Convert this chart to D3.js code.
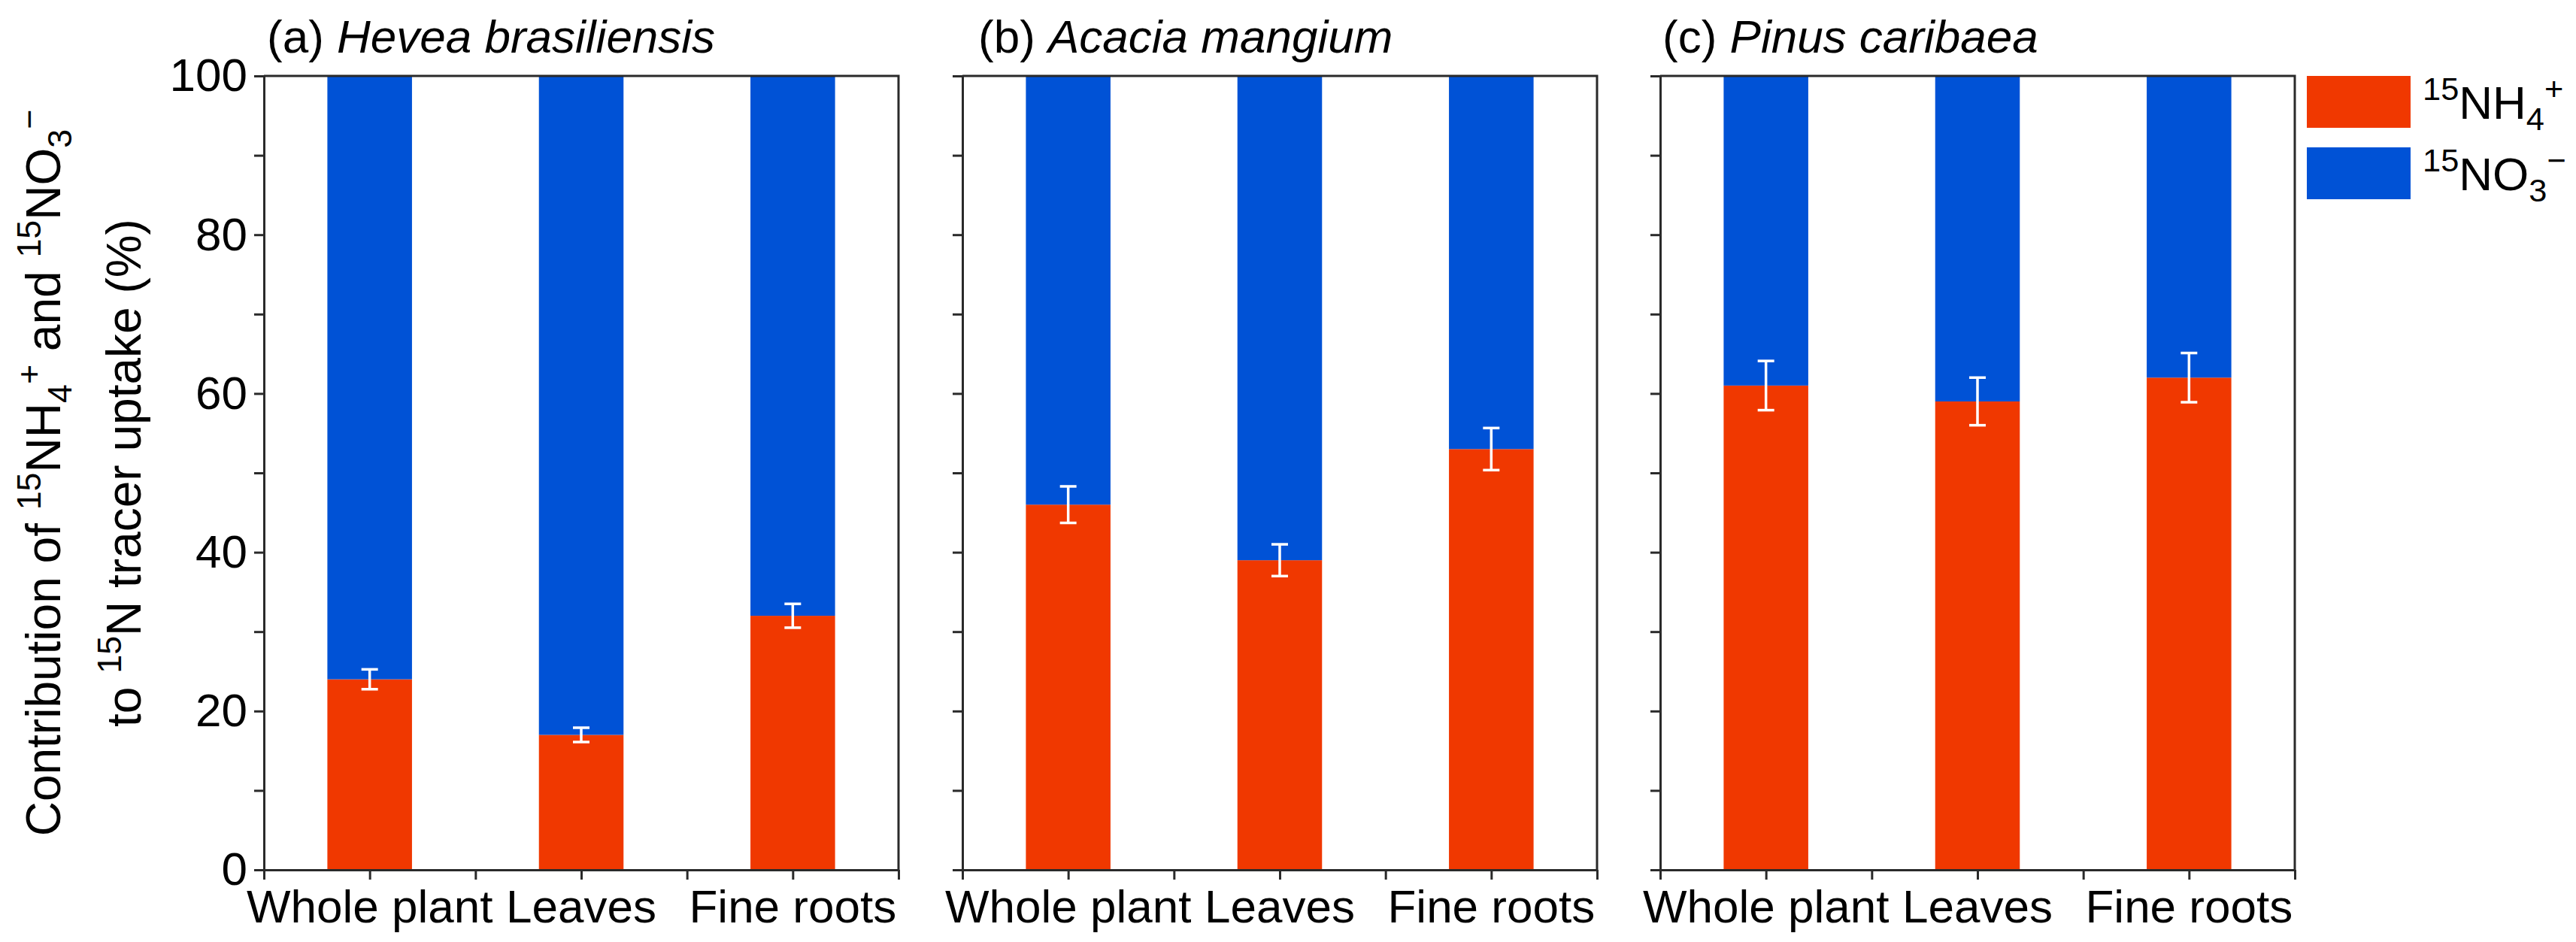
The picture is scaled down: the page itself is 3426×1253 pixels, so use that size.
<!DOCTYPE html>
<html><head><meta charset="utf-8">
<script src="https://cdn.jsdelivr.net/npm/d3@7"></script>
<style>
body{margin:0;background:#fff}
text{font-family:"Liberation Sans",Arial,Helvetica,sans-serif;fill:#000}
</style>
</head><body>
<svg id="chart" width="3426" height="1253"></svg>
<script>
// ---- data ----
const categories = ["Whole plant", "Leaves", "Fine roots"];
const panelTags = ["(a) ", "(b) ", "(c) "];
const species = ["Hevea brasiliensis", "Acacia mangium", "Pinus caribaea"];
const nh4Share = [[24, 17, 32], [46, 39, 53], [61, 59, 62]];
const nh4Err = [[1.25, 0.9, 1.5], [2.3, 2.0, 2.65], [3.1, 3.0, 3.1]];
const yMajorTicks = [0, 20, 40, 60, 80, 100];
const yAllTicks = [0, 10, 20, 30, 40, 50, 60, 70, 80, 90, 100];
const xTicks = [0.5, 1, 1.5, 2, 2.5, 3, 3.5];
const seriesKeys = ["nh4", "no3"];
const seriesColors = ["#F03800", "#0052D6"];

// ---- layout ----
const svg = d3.select("#chart");
const panelLeft = [351, 1280, 2208];
const titleOffset = [4, 21, 3];
const pw = 844, plotTop = 101, plotBottom = 1157;
const FS = 62;
const axisColor = "#2a2a2a";

const y = d3.scaleLinear().domain([0, 100]).range([plotBottom, plotTop]);
const color = d3.scaleOrdinal().domain(seriesKeys).range(seriesColors);

panelLeft.forEach((left, p) => {
  const x = d3.scaleLinear().domain([0.5, 3.5]).range([left, left + pw]);
  const bw = x(1.2) - x(0.8);
  const rows = categories.map((c, i) => ({cat: c, pos: i + 1, nh4: nh4Share[p][i], no3: 100 - nh4Share[p][i], err: nh4Err[p][i]}));
  const stacked = d3.stack().keys(seriesKeys)(rows);

  const g = svg.append("g");
  stacked.forEach(layer => {
    g.selectAll(null).data(layer).enter().append("rect")
      .attr("x", d => x(d.data.pos) - bw / 2)
      .attr("width", bw)
      .attr("y", d => y(d[1]))
      .attr("height", d => y(d[0]) - y(d[1]))
      .attr("fill", color(layer.key));
  });

  // error bars (white)
  const cap = 11;
  const eb = g.selectAll(null).data(rows).enter().append("g")
    .attr("stroke", "#fff").attr("stroke-width", 3.5);
  eb.append("line").attr("x1", d => x(d.pos)).attr("x2", d => x(d.pos))
    .attr("y1", d => y(d.nh4 + d.err)).attr("y2", d => y(d.nh4 - d.err));
  eb.append("line").attr("x1", d => x(d.pos) - cap).attr("x2", d => x(d.pos) + cap)
    .attr("y1", d => y(d.nh4 + d.err)).attr("y2", d => y(d.nh4 + d.err));
  eb.append("line").attr("x1", d => x(d.pos) - cap).attr("x2", d => x(d.pos) + cap)
    .attr("y1", d => y(d.nh4 - d.err)).attr("y2", d => y(d.nh4 - d.err));

  // frame: top and right
  g.append("path")
    .attr("d", `M${x(0.5)},${y(100)}H${x(3.5)}V${y(0)}`)
    .attr("fill", "none").attr("stroke", axisColor).attr("stroke-width", 3);

  // y axis
  const yAxis = d3.axisLeft(y).tickValues(yAllTicks).tickSize(13).tickSizeOuter(0)
    .tickFormat(d => (p === 0 && yMajorTicks.includes(d)) ? d : "");
  const ga = g.append("g").attr("transform", `translate(${left},0)`).call(yAxis);
  ga.selectAll("path,line").attr("stroke", axisColor).attr("stroke-width", 3);
  ga.selectAll("text").attr("font-size", FS).attr("x", -22)
    .style("font-family", '"Liberation Sans",Arial,sans-serif').attr("fill", "#000");

  // x axis
  const xAxis = d3.axisBottom(x).tickValues(xTicks).tickSize(13).tickSizeOuter(0).tickFormat("");
  const gx = g.append("g").attr("transform", `translate(0,${plotBottom})`).call(xAxis);
  gx.selectAll("path,line").attr("stroke", axisColor).attr("stroke-width", 3);

  // category labels
  g.selectAll(null).data(rows).enter().append("text")
    .attr("x", d => x(d.pos)).attr("y", 1227)
    .attr("text-anchor", "middle").attr("font-size", FS)
    .text(d => d.cat);

  // title
  const t = g.append("text").attr("x", left + titleOffset[p]).attr("y", 70).attr("font-size", FS);
  t.append("tspan").text(panelTags[p]);
  t.append("tspan").attr("font-style", "italic").text(species[p]);
});

// ---- y-axis title ----
function chemText(sel, parts, fs) {
  let cur = 0;
  parts.forEach(([txt, mode]) => {
    const target = mode === "sup" ? -0.4 * fs : mode === "sub" ? 0.24 * fs : 0;
    sel.append("tspan").attr("dy", target - cur)
      .attr("font-size", mode === "n" ? fs : fs * 0.7).text(txt);
    cur = target;
  });
}
const yl = svg.append("g").attr("transform", `translate(0,${(plotTop + plotBottom) / 2})`);
const l1 = yl.append("text").attr("transform", "translate(80,0) rotate(-90)")
  .attr("text-anchor", "middle").attr("font-size", 64);
chemText(l1, [["Contribution of ", "n"], ["15", "sup"], ["NH", "n"], ["4", "sub"], ["+", "sup"], [" and ", "n"], ["15", "sup"], ["NO", "n"], ["3", "sub"], ["\u2212", "sup"]], 64);
const l2 = yl.append("text").attr("transform", "translate(187,0) rotate(-90)")
  .attr("text-anchor", "middle").attr("font-size", 64);
chemText(l2, [["to ", "n"], ["15", "sup"], ["N tracer uptake (%)", "n"]], 64);

// ---- legend ----
const legendItems = [
  {key: "nh4", parts: [["15", "sup"], ["NH", "n"], ["4", "sub"], ["+", "sup"]]},
  {key: "no3", parts: [["15", "sup"], ["NO", "n"], ["3", "sub"], ["\u2212", "sup"]]}
];
legendItems.forEach((it, i) => {
  const gy = 101 + i * 95;
  svg.append("rect").attr("x", 3068).attr("y", gy).attr("width", 138).attr("height", 69)
    .attr("fill", color(it.key));
  const tx = svg.append("text").attr("x", 3222).attr("y", gy + 57).attr("font-size", FS);
  chemText(tx, it.parts, FS);
});
</script>
</body></html>
